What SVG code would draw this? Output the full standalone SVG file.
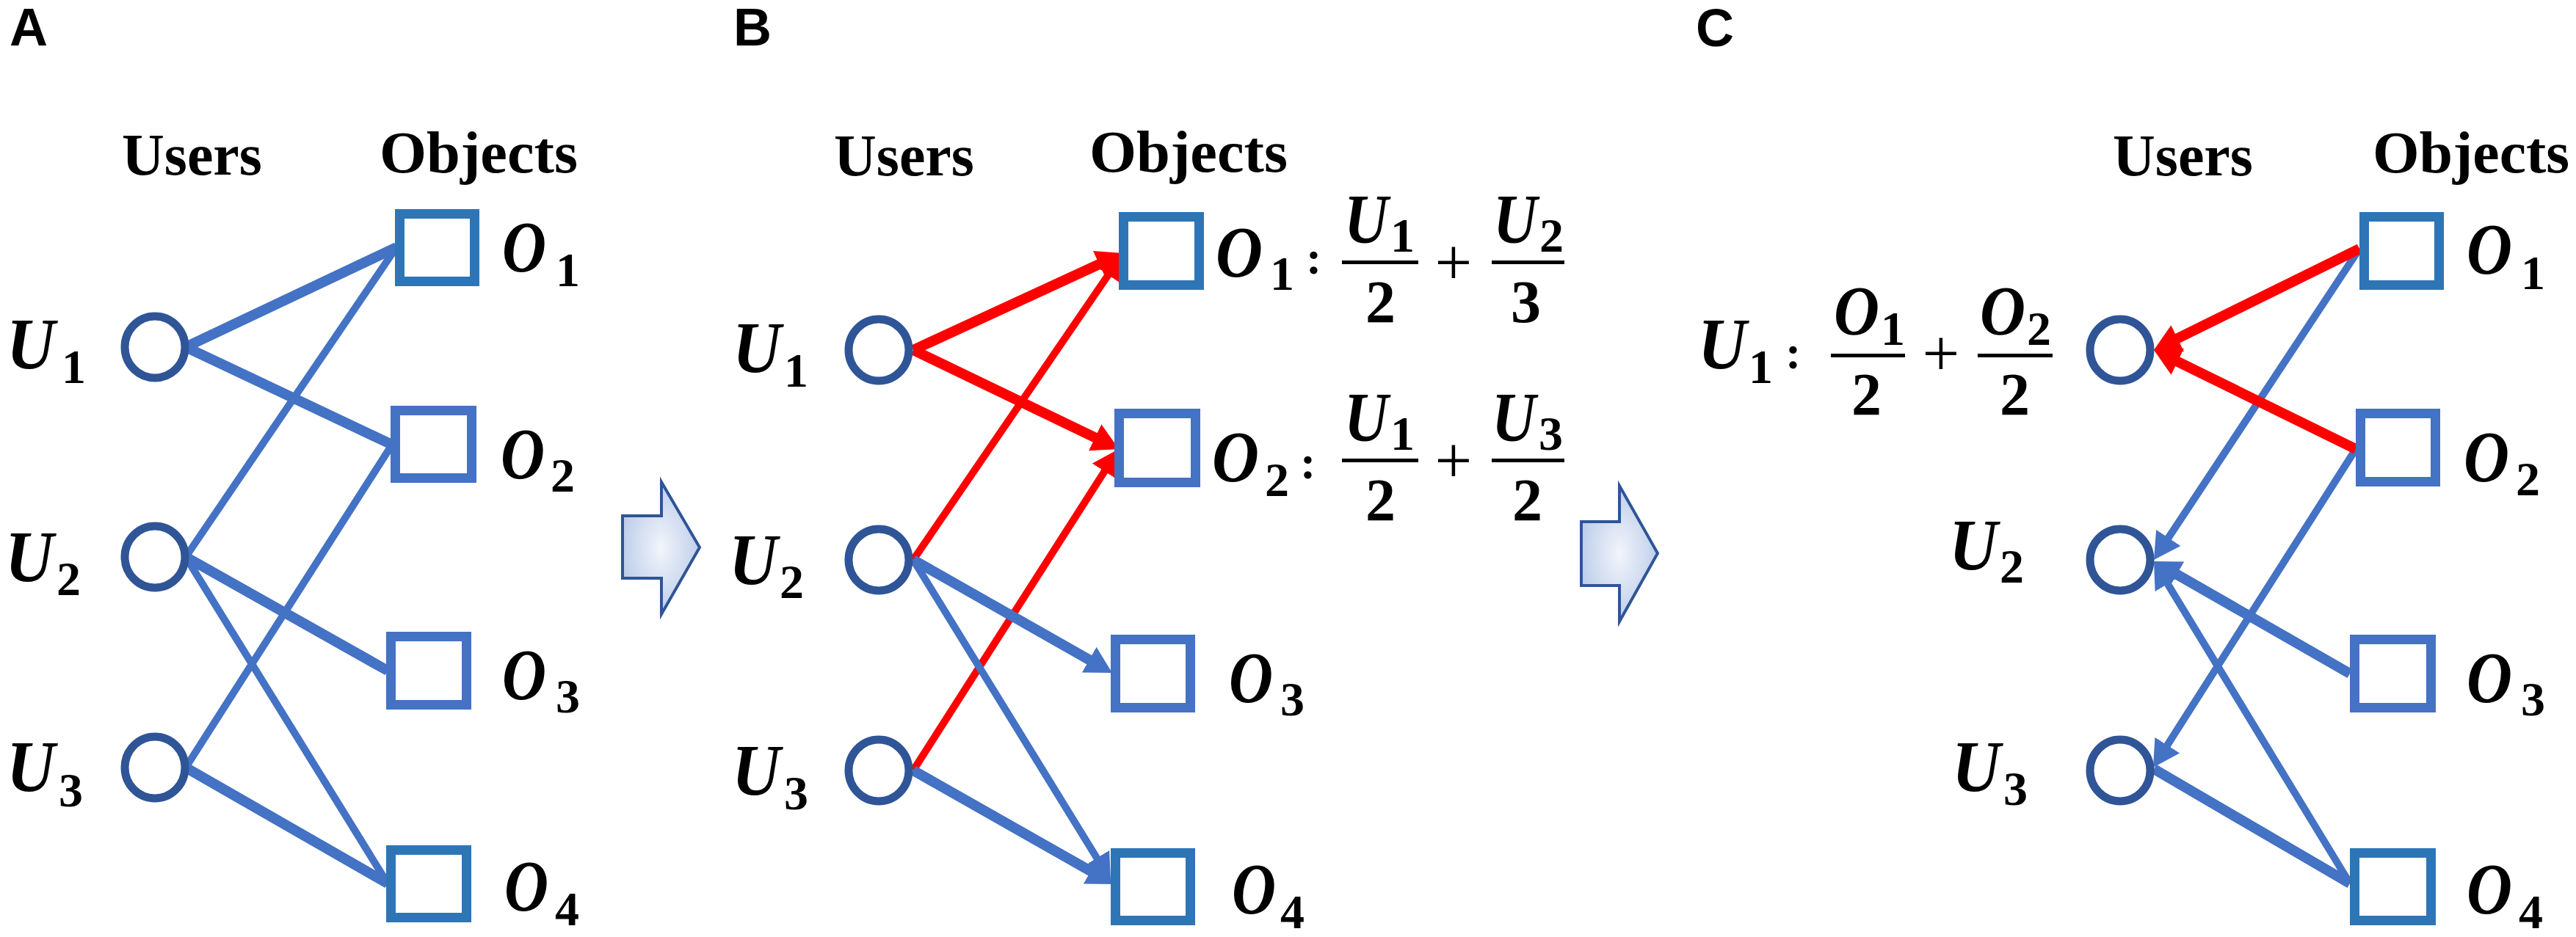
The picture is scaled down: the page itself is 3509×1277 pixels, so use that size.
<svg xmlns="http://www.w3.org/2000/svg" width="3509" height="1277" viewBox="0 0 3509 1277">
<defs>
<style>
.panel{font-family:"Liberation Sans",Arial,sans-serif;font-weight:bold;font-size:72px;fill:#000}
.hdr{font-family:"Liberation Serif","Times New Roman",serif;font-weight:bold;font-size:80px;fill:#000}
.mi{font-family:"Liberation Serif","Times New Roman",serif;font-weight:bold;font-style:italic;font-size:100px;fill:#000}
.mf{font-family:"Liberation Serif","Times New Roman",serif;font-weight:bold;font-style:italic;font-size:96px;fill:#000}
.sub{font-family:"Liberation Serif","Times New Roman",serif;font-weight:bold;font-size:66px;fill:#000}
.den{font-family:"Liberation Serif","Times New Roman",serif;font-weight:bold;font-size:82px;fill:#000}
.op{font-family:"Liberation Serif","Times New Roman",serif;font-size:90px;fill:#000}
.col{font-family:"Liberation Serif","Times New Roman",serif;font-weight:bold;font-size:64px;fill:#000}
.user{fill:#fff;stroke:#2F5597;stroke-width:11}
.objA{fill:#fff;stroke:#2E75B6;stroke-width:13}
.objB{fill:#fff;stroke:#4472C4;stroke-width:13}
.bl{stroke:#4472C4;fill:none}
.rd{stroke:#FF0000;fill:none}
.thick{stroke-width:14}
.thin{stroke-width:10}
.bar{fill:#000}
.blk{stroke:#2F5597;stroke-width:4;fill:url(#grad)}
</style>
<radialGradient id="grad" cx="0.5" cy="0.5" r="0.6">
<stop offset="0" stop-color="#F2F5FB"/>
<stop offset="1" stop-color="#B4C7E7"/>
</radialGradient>
<marker id="ahB" viewBox="0 0 36 40" refX="16" refY="20" markerWidth="36" markerHeight="40" markerUnits="userSpaceOnUse" orient="auto">
<path d="M0,0 L36,20 L0,40 Z" fill="#4472C4"/>
</marker>
<marker id="ahR" viewBox="0 0 36 40" refX="16" refY="20" markerWidth="36" markerHeight="40" markerUnits="userSpaceOnUse" orient="auto">
<path d="M0,0 L36,20 L0,40 Z" fill="#FF0000"/>
</marker>
</defs>
<rect x="0" y="0" width="3509" height="1277" fill="#fff"/>

<!-- panel letters and headers -->
<g id="labels">
<text class="panel" x="13" y="62">A</text>
<text class="panel" x="999" y="62">B</text>
<text class="panel" x="2310" y="63">C</text>
<text class="hdr" x="166" y="238" textLength="191" lengthAdjust="spacingAndGlyphs">Users</text>
<text class="hdr" x="517" y="235" textLength="270" lengthAdjust="spacingAndGlyphs">Objects</text>
<text class="hdr" x="1136" y="239" textLength="191" lengthAdjust="spacingAndGlyphs">Users</text>
<text class="hdr" x="1484" y="234" textLength="270" lengthAdjust="spacingAndGlyphs">Objects</text>
<text class="hdr" x="2878" y="239" textLength="191" lengthAdjust="spacingAndGlyphs">Users</text>
<text class="hdr" x="3232" y="235" textLength="268" lengthAdjust="spacingAndGlyphs">Objects</text>
</g>

<!-- block arrows -->
<g id="step-arrow-1"><polygon class="blk" points="848,703 901,703 901,657 953,746 901,837 901,788 848,788"/></g>
<g id="step-arrow-2"><polygon class="blk" points="2154,711 2206,711 2206,662 2258,754 2206,847 2206,798 2154,798"/></g>

<!-- connectors -->
<g id="connectors">
<!-- panel A -->
<line class="bl thick" x1="253" y1="473" x2="540" y2="337"/>
<line class="bl thick" x1="253" y1="473" x2="534" y2="606"/>
<line class="bl thin" x1="253" y1="759" x2="540" y2="337"/>
<line class="bl thick" x1="253" y1="759" x2="528" y2="914"/>
<line class="bl thin" x1="253" y1="759" x2="528" y2="1204"/>
<line class="bl thin" x1="253" y1="1046" x2="534" y2="606"/>
<line class="bl thick" x1="253" y1="1046" x2="528" y2="1204"/>
<!-- panel B -->
<line class="rd thick" x1="1244" y1="477" x2="1511.8" y2="353.4" marker-end="url(#ahR)"/>
<line class="rd thick" x1="1244" y1="477" x2="1506" y2="603.3" marker-end="url(#ahR)"/>
<line class="rd thin" x1="1244" y1="763" x2="1518.7" y2="361.5" marker-end="url(#ahR)"/>
<line class="rd thin" x1="1244" y1="1050" x2="1513.2" y2="628.9" marker-end="url(#ahR)"/>
<line class="bl thick" x1="1244" y1="763" x2="1497.6" y2="907.1" marker-end="url(#ahB)"/>
<line class="bl thin" x1="1244" y1="763" x2="1502.5" y2="1183" marker-end="url(#ahB)"/>
<line class="bl thick" x1="1244" y1="1050" x2="1499.6" y2="1195.1" marker-end="url(#ahB)"/>
<!-- panel C -->
<line class="bl thin" x1="3214" y1="339" x2="2945" y2="746.3" marker-end="url(#ahB)"/>
<line class="bl thin" x1="3209" y1="612" x2="2943.7" y2="1029.1" marker-end="url(#ahB)"/>
<line class="bl thick" x1="3201" y1="918" x2="2951.4" y2="774.9" marker-end="url(#ahB)"/>
<line class="bl thin" x1="3201" y1="1204" x2="2944.4" y2="782.1" marker-end="url(#ahB)"/>
<line class="bl thick" x1="3201" y1="1204" x2="2934" y2="1048"/>
<line class="rd thick" x1="3214" y1="339" x2="2951.9" y2="468.2" marker-end="url(#ahR)"/>
<line class="rd thick" x1="3209" y1="612" x2="2952" y2="485.8" marker-end="url(#ahR)"/>
</g>

<!-- Panel A nodes -->
<g id="A-U1"><ellipse class="user" cx="211" cy="473" rx="41" ry="42"/><text class="mi" x="9" y="502" textLength="66" lengthAdjust="spacingAndGlyphs">U</text><text class="sub" x="84" y="522">1</text></g>
<g id="A-U2"><ellipse class="user" cx="211" cy="759" rx="41" ry="42"/><text class="mi" x="7" y="792" textLength="66" lengthAdjust="spacingAndGlyphs">U</text><text class="sub" x="77" y="811">2</text></g>
<g id="A-U3"><ellipse class="user" cx="211" cy="1046" rx="41" ry="42"/><text class="mi" x="9" y="1078" textLength="66" lengthAdjust="spacingAndGlyphs">U</text><text class="sub" x="80" y="1099">3</text></g>
<g id="A-O1"><rect class="objA" x="544.5" y="291.5" width="102" height="92"/><text class="mi" x="684" y="370" textLength="60" lengthAdjust="spacingAndGlyphs">O</text><text class="sub" x="757" y="390">1</text></g>
<g id="A-O2"><rect class="objB" x="538.5" y="559.5" width="104" height="92"/><text class="mi" x="682" y="652" textLength="60" lengthAdjust="spacingAndGlyphs">O</text><text class="sub" x="750" y="670">2</text></g>
<g id="A-O3"><rect class="objB" x="532.5" y="867.5" width="103" height="93"/><text class="mi" x="684" y="953" textLength="60" lengthAdjust="spacingAndGlyphs">O</text><text class="sub" x="757" y="971">3</text></g>
<g id="A-O4"><rect class="objA" x="532.5" y="1158.5" width="103" height="92"/><text class="mi" x="687" y="1241" textLength="60" lengthAdjust="spacingAndGlyphs">O</text><text class="sub" x="756" y="1261">4</text></g>

<!-- Panel B nodes -->
<g id="B-U1"><ellipse class="user" cx="1197" cy="477" rx="41" ry="42"/><text class="mi" x="998" y="507" textLength="66" lengthAdjust="spacingAndGlyphs">U</text><text class="sub" x="1068" y="527">1</text></g>
<g id="B-U2"><ellipse class="user" cx="1197" cy="763" rx="41" ry="42"/><text class="mi" x="993" y="796" textLength="66" lengthAdjust="spacingAndGlyphs">U</text><text class="sub" x="1062" y="815">2</text></g>
<g id="B-U3"><ellipse class="user" cx="1197" cy="1050" rx="41" ry="42"/><text class="mi" x="997" y="1083" textLength="66" lengthAdjust="spacingAndGlyphs">U</text><text class="sub" x="1068" y="1103">3</text></g>
<g id="B-O1"><rect class="objA" x="1530.5" y="295.5" width="103" height="93"/>
<text class="mi" x="1656" y="377" textLength="64" lengthAdjust="spacingAndGlyphs">O</text><text class="sub" x="1730" y="395">1</text><text class="col" x="1779" y="373">:</text>
<text class="mf" x="1831" y="331" textLength="60" lengthAdjust="spacingAndGlyphs">U</text><text class="sub" x="1894" y="343">1</text>
<rect class="bar" x="1828" y="355" width="104" height="5"/>
<text class="den" x="1860" y="439">2</text>
<text class="op" x="1980" y="388" text-anchor="middle">+</text>
<text class="mf" x="2034" y="331" textLength="60" lengthAdjust="spacingAndGlyphs">U</text><text class="sub" x="2097" y="343">2</text>
<rect class="bar" x="2032" y="355" width="99" height="5"/>
<text class="den" x="2058" y="439">3</text>
</g>
<g id="B-O2"><rect class="objB" x="1524.5" y="563.5" width="104" height="94"/>
<text class="mi" x="1651" y="656" textLength="64" lengthAdjust="spacingAndGlyphs">O</text><text class="sub" x="1723" y="676">2</text><text class="col" x="1771" y="652">:</text>
<text class="mf" x="1831" y="601" textLength="60" lengthAdjust="spacingAndGlyphs">U</text><text class="sub" x="1894" y="613">1</text>
<rect class="bar" x="1828" y="625" width="104" height="5"/>
<text class="den" x="1860" y="709">2</text>
<text class="op" x="1980" y="658" text-anchor="middle">+</text>
<text class="mf" x="2032" y="601" textLength="60" lengthAdjust="spacingAndGlyphs">U</text><text class="sub" x="2096" y="613">3</text>
<rect class="bar" x="2032" y="625" width="99" height="5"/>
<text class="den" x="2060" y="709">2</text>
</g>
<g id="B-O3"><rect class="objB" x="1519.5" y="871.5" width="102" height="93"/><text class="mi" x="1674" y="957" textLength="60" lengthAdjust="spacingAndGlyphs">O</text><text class="sub" x="1744" y="975">3</text></g>
<g id="B-O4"><rect class="objA" x="1519.5" y="1162.5" width="102" height="92"/><text class="mi" x="1678" y="1245" textLength="60" lengthAdjust="spacingAndGlyphs">O</text><text class="sub" x="1744" y="1265">4</text></g>

<!-- Panel C nodes -->
<g id="C-U1"><ellipse class="user" cx="2888" cy="477" rx="41" ry="42"/>
<text class="mi" x="2313" y="502" textLength="66" lengthAdjust="spacingAndGlyphs">U</text><text class="sub" x="2382" y="522">1</text><text class="col" x="2432" y="502">:</text>
<text class="mf" x="2498" y="456" textLength="62" lengthAdjust="spacingAndGlyphs">O</text><text class="sub" x="2562" y="470">1</text>
<rect class="bar" x="2494" y="482" width="101" height="5"/>
<text class="den" x="2522" y="565">2</text>
<text class="op" x="2644" y="512" text-anchor="middle">+</text>
<text class="mf" x="2697" y="456" textLength="62" lengthAdjust="spacingAndGlyphs">O</text><text class="sub" x="2761" y="470">2</text>
<rect class="bar" x="2694" y="482" width="102" height="5"/>
<text class="den" x="2724" y="565">2</text>
</g>
<g id="C-U2"><ellipse class="user" cx="2888" cy="763" rx="41" ry="42"/><text class="mi" x="2655" y="776" textLength="66" lengthAdjust="spacingAndGlyphs">U</text><text class="sub" x="2724" y="794">2</text></g>
<g id="C-U3"><ellipse class="user" cx="2888" cy="1050" rx="41" ry="42"/><text class="mi" x="2659" y="1078" textLength="66" lengthAdjust="spacingAndGlyphs">U</text><text class="sub" x="2729" y="1097">3</text></g>
<g id="C-O1"><rect class="objA" x="3220.5" y="295.5" width="102" height="93"/><text class="mi" x="3360" y="373" textLength="62" lengthAdjust="spacingAndGlyphs">O</text><text class="sub" x="3434" y="394">1</text></g>
<g id="C-O2"><rect class="objB" x="3215.5" y="563.5" width="102" height="93"/><text class="mi" x="3356" y="656" textLength="62" lengthAdjust="spacingAndGlyphs">O</text><text class="sub" x="3427" y="675">2</text></g>
<g id="C-O3"><rect class="objB" x="3207.5" y="871.5" width="104" height="93"/><text class="mi" x="3360" y="957" textLength="62" lengthAdjust="spacingAndGlyphs">O</text><text class="sub" x="3434" y="975">3</text></g>
<g id="C-O4"><rect class="objA" x="3207.5" y="1162.5" width="104" height="92"/><text class="mi" x="3360" y="1245" textLength="62" lengthAdjust="spacingAndGlyphs">O</text><text class="sub" x="3431" y="1265">4</text></g>
</svg>
